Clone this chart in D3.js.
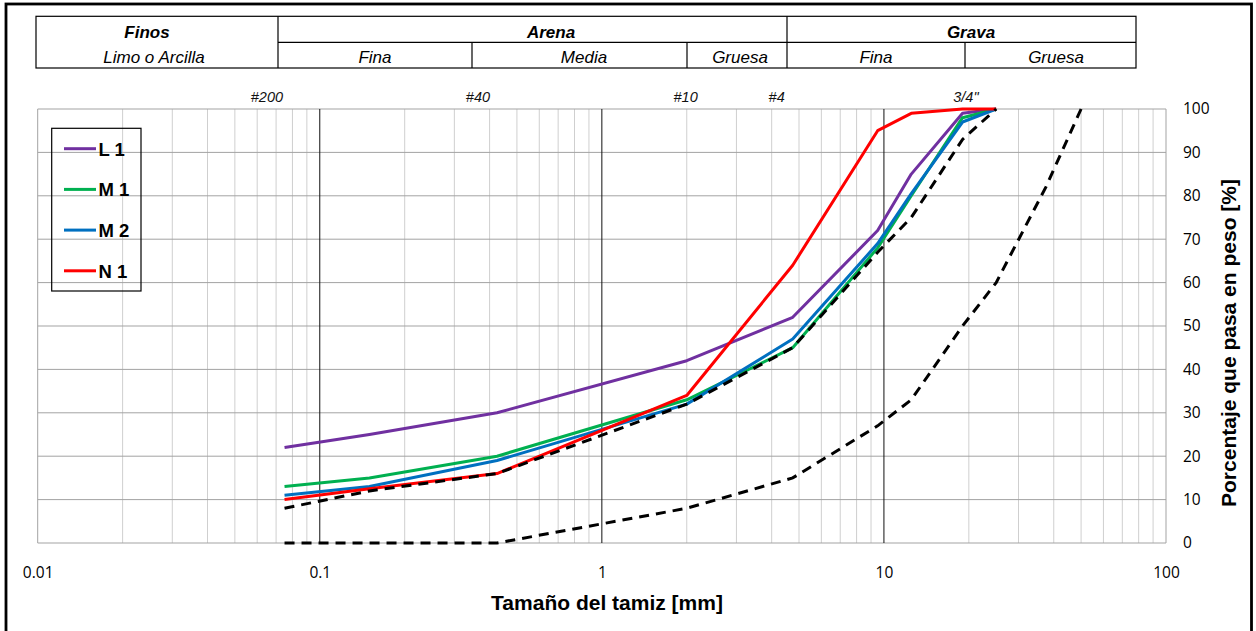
<!DOCTYPE html>
<html><head><meta charset="utf-8">
<script src="https://cdn.jsdelivr.net/npm/d3@7"></script>
<style>body{margin:0;background:#fff}</style>
</head><body><svg id="c" width="1256" height="631"></svg>
<script>
// ---------- DATA ----------
const sieveSizes = [0.075, 0.15, 0.425, 2, 4.75, 9.5, 12.5, 19, 25, 37.5, 50];
const seriesNames = ["L 1", "M 1", "M 2", "N 1"];
const L1 = [22, 25, 30, 42, 52, 72, 85, 99, 100, null, null];
const M1 = [13, 15, 20, 33, 45, 68, 80, 98, 100, null, null];
const M2 = [11, 13, 19, 32, 47, 69, 80.5, 97, 100, null, null];
const N1 = [10, 12.5, 16, 34, 64, 95, 99, 100, 100, null, null];
const upperLimit = [8, 12, 16, 32, 45, 67, 75, 93, 100, null, null];
const lowerLimit = [0, 0, 0, 8, 15, 27, 33, 50, 60, 82, 100];
const xTickValues = [0.01, 0.1, 1, 10, 100];
const xTickLabels = ["0.01", "0.1", "1", "10", "100"];
const yTickValues = [0, 10, 20, 30, 40, 50, 60, 70, 80, 90, 100];
const sieveLabels = ["#200", "#40", "#10", "#4", "3/4\""];
const sieveLabelSizes = [0.075, 0.425, 2, 4.75, 19];
const headerTop = ["Finos", "Arena", "Grava"];
const headerBottom = ["Limo o Arcilla", "Fina", "Media", "Gruesa", "Fina", "Gruesa"];
const xTitle = "Tamaño del tamiz [mm]";
const yTitle = "Porcentaje que pasa en peso [%]";

// ---------- LAYOUT / STYLE ----------
const colors = ["#7030A0", "#00B050", "#0070C0", "#FF0000"];
const svg = d3.select("#c");
const x = d3.scaleLog().domain([0.01, 100]).range([37.7, 1166]);
const y = d3.scaleLinear().domain([0, 100]).range([543, 109]);
const sansB = "'Liberation Sans', Arial, sans-serif";
const tickFont = "'Open Sans', 'Liberation Sans', sans-serif";

// outer border (bottom edge lies beyond the canvas)
svg.append("rect").attr("x", 6).attr("y", 4).attr("width", 1245.5).attr("height", 640)
  .attr("fill", "none").attr("stroke", "#000").attr("stroke-width", 2.8);

// header table
const tb = svg.append("g").attr("stroke", "#000").attr("stroke-width", 1.2).attr("fill", "none");
tb.append("rect").attr("x", 36).attr("y", 16.3).attr("width", 1100).attr("height", 51.7);
tb.append("line").attr("x1", 278).attr("x2", 1136).attr("y1", 42.3).attr("y2", 42.3);
[278, 787].forEach(v => tb.append("line").attr("x1", v).attr("x2", v).attr("y1", 16.3).attr("y2", 68));
[472, 687, 965].forEach(v => tb.append("line").attr("x1", v).attr("x2", v).attr("y1", 42.3).attr("y2", 68));
const topCenters = [147, 551, 971];
const botCenters = [154, 375, 584, 740, 876, 1056];
svg.append("g").selectAll("text").data(headerTop).join("text")
  .attr("x", (d, i) => topCenters[i]).attr("y", 37.5).attr("text-anchor", "middle")
  .attr("font-family", sansB).attr("font-size", 17).attr("font-weight", "bold").attr("font-style", "italic")
  .text(d => d);
svg.append("g").selectAll("text").data(headerBottom).join("text")
  .attr("x", (d, i) => botCenters[i]).attr("y", 62.5).attr("text-anchor", "middle")
  .attr("font-family", sansB).attr("font-size", 17).attr("font-style", "italic")
  .text(d => d);

// sieve labels
const sieveDx = [-1.5, -7, 11, -8, 16];
svg.append("g").selectAll("text").data(sieveLabels).join("text")
  .attr("x", (d, i) => x(sieveLabelSizes[i]) + sieveDx[i]).attr("y", 102)
  .attr("text-anchor", "end")
  .attr("font-family", sansB).attr("font-size", 14.5).attr("font-style", "italic").attr("fill", "#111")
  .text(d => d);

// grid
const grid = svg.append("g");
const allTicks = x.ticks();
const isDecade = v => Math.abs(Math.log10(v) - Math.round(Math.log10(v))) < 1e-9;
grid.selectAll("line.minor").data(allTicks.filter(v => !isDecade(v))).join("line")
  .attr("x1", d => x(d)).attr("x2", d => x(d)).attr("y1", y(0)).attr("y2", y(100))
  .attr("stroke", "#cfcfcf").attr("stroke-width", 1);
grid.selectAll("line.h").data(yTickValues).join("line")
  .attr("x1", x(0.01)).attr("x2", x(100)).attr("y1", d => y(d)).attr("y2", d => y(d))
  .attr("stroke", "#a3a3a3").attr("stroke-width", 1);
grid.selectAll("line.edge").data([0.01, 100]).join("line")
  .attr("x1", d => x(d)).attr("x2", d => x(d)).attr("y1", y(0)).attr("y2", y(100))
  .attr("stroke", "#a3a3a3").attr("stroke-width", 1);
grid.selectAll("line.dec").data([0.1, 1, 10]).join("line")
  .attr("x1", d => x(d)).attr("x2", d => x(d)).attr("y1", y(0)).attr("y2", y(100))
  .attr("stroke", "#111").attr("stroke-width", 1);

// axes
const xAxis = svg.append("g").attr("transform", `translate(0,${y(0)})`)
  .call(d3.axisBottom(x).tickValues(xTickValues).tickFormat((d, i) => xTickLabels[i]).tickSize(0).tickPadding(24));
xAxis.select(".domain").remove();
xAxis.selectAll("text").attr("font-family", tickFont).attr("font-size", 15.5).attr("fill", "#000");
const yAxis = svg.append("g").attr("transform", `translate(1180,0)`)
  .call(d3.axisRight(y).tickValues(yTickValues).tickSize(0).tickPadding(3));
yAxis.select(".domain").remove();
yAxis.selectAll("text").attr("font-family", tickFont).attr("font-size", 15.5).attr("fill", "#000");

// titles
svg.append("text").attr("x", 607).attr("y", 610).attr("text-anchor", "middle")
  .attr("font-family", sansB).attr("font-size", 21).attr("font-weight", "bold").text(xTitle);
svg.append("text").attr("transform", "translate(1236,343) rotate(-90)").attr("text-anchor", "middle")
  .attr("font-family", sansB).attr("font-size", 21).attr("font-weight", "bold").text(yTitle);

// lines
const line = d3.line().defined(d => d[1] !== null).x(d => x(d[0])).y(d => y(d[1]));
const series = [L1, M1, M2, N1];
series.forEach((s, i) => {
  svg.append("path").datum(sieveSizes.map((v, j) => [v, s[j]]))
    .attr("d", line).attr("fill", "none").attr("stroke", colors[i]).attr("stroke-width", 3)
    .attr("stroke-linejoin", "round");
});
[upperLimit, lowerLimit].forEach(s => {
  svg.append("path").datum(sieveSizes.map((v, j) => [v, s[j]]))
    .attr("d", line).attr("fill", "none").attr("stroke", "#000").attr("stroke-width", 3)
    .attr("stroke-dasharray", "10,7");
});

// legend
const lg = svg.append("g");
lg.append("rect").attr("x", 51.7).attr("y", 128.3).attr("width", 89.3).attr("height", 162.7)
  .attr("fill", "none").attr("stroke", "#000").attr("stroke-width", 1.2);
const items = lg.selectAll("g.it").data(seriesNames).join("g")
  .attr("transform", (d, i) => `translate(0,${148.7 + i * 40.7})`);
items.append("line").attr("x1", 64).attr("x2", 96).attr("y1", 0).attr("y2", 0)
  .attr("stroke", (d, i) => colors[i]).attr("stroke-width", 3);
items.append("text").attr("x", 98.5).attr("y", 7).attr("font-family", sansB).attr("font-size", 18.5)
  .attr("font-weight", "bold").text(d => d);
</script></body></html>
